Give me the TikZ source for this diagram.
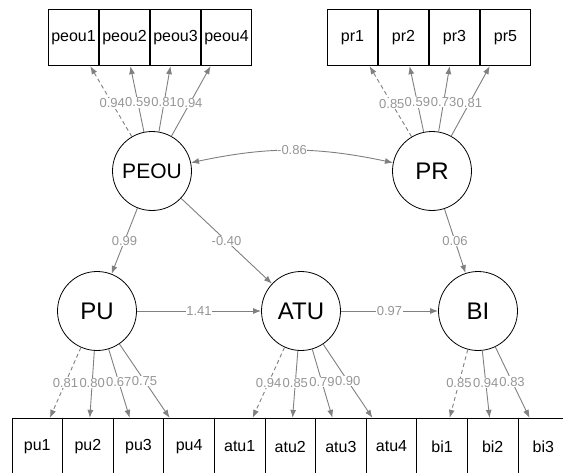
\documentclass[tikz,border=0pt]{standalone}
\usepackage{fontspec}
\setmainfont{Liberation Sans}
\usetikzlibrary{arrows.meta}
\definecolor{edgegray}{RGB}{128,128,128}
\definecolor{lblgray}{RGB}{150,150,150}
\begin{document}
\begin{tikzpicture}[x=1pt,y=-1pt,
  ind/.style={draw=black, line width=0.8pt, rectangle, minimum width=50.6pt, minimum height=56.5pt, inner sep=0pt, font=\fontsize{16}{16}\selectfont},
  lat/.style={draw=black, line width=0.8pt, circle, minimum size=79pt, inner sep=0pt, font=\fontsize{24}{24}\selectfont},
  edg/.style={draw=edgegray, line width=0.9pt, -{Latex[length=8pt,width=6pt]}},
  fixd/.style={edg, dash pattern=on 4pt off 3pt},
  lbl/.style={font=\fontsize{13}{13}\selectfont, text=lblgray, fill=white, inner sep=0.6pt}
]
\clip (0,0) rectangle (563,472);
\fill[white] (0,0) rectangle (563,472);

% latent variables
\node[lat, font=\fontsize{21}{21}\selectfont] (PEOU) at (152,171) {PEOU};
\node[lat] (PR) at (432,171) {PR};
\node[lat] (PU) at (97,311) {PU};
\node[lat] (ATU) at (301,311) {ATU};
\node[lat] (BI) at (478,311) {BI};

% top indicators
\node[ind] (peou1) at (73.5,37.5) {peou1};
\node[ind] (peou2) at (124.5,37.5) {peou2};
\node[ind] (peou3) at (175.5,37.5) {peou3};
\node[ind] (peou4) at (226.5,37.5) {peou4};
\node[ind] (pr1) at (352.5,37.5) {pr1};
\node[ind] (pr2) at (403.5,37.5) {pr2};
\node[ind] (pr3) at (454.5,37.5) {pr3};
\node[ind] (pr5) at (505.5,37.5) {pr5};

% bottom indicators
\node[ind] (pu1) at (37.3,446.5) {pu1};
\node[ind] (pu2) at (87.9,446.5) {pu2};
\node[ind] (pu3) at (138.5,446.5) {pu3};
\node[ind] (pu4) at (189.1,446.5) {pu4};
\node[ind] (atu1) at (239.7,446.5) {atu1};
\node[ind] (atu2) at (290.3,446.5) {atu2};
\node[ind] (atu3) at (340.9,446.5) {atu3};
\node[ind] (atu4) at (391.5,446.5) {atu4};
\node[ind] (bi1) at (442.1,446.5) {bi1};
\node[ind] (bi2) at (492.7,446.5) {bi2};
\node[ind] (bi3) at (543.3,446.5) {bi3};

% loadings top
\draw[fixd] (PEOU) -- node[lbl, pos=0.47] {0.94} (peou1);
\draw[edg] (PEOU) -- node[lbl, pos=0.45] {0.59} (peou2);
\draw[edg] (PEOU) -- node[lbl, pos=0.45] {0.81} (peou3);
\draw[edg] (PEOU) -- node[lbl, pos=0.47] {0.94} (peou4);
\draw[fixd] (PR) -- node[lbl, pos=0.47] {0.85} (pr1);
\draw[edg] (PR) -- node[lbl, pos=0.45] {0.59} (pr2);
\draw[edg] (PR) -- node[lbl, pos=0.45] {0.73} (pr3);
\draw[edg] (PR) -- node[lbl, pos=0.47] {0.81} (pr5);

% loadings bottom
\draw[fixd] (PU) -- node[lbl, pos=0.5] {0.81} (pu1);
\draw[edg] (PU) -- node[lbl, pos=0.48] {0.80} (pu2);
\draw[edg] (PU) -- node[lbl, pos=0.48] {0.67} (pu3);
\draw[edg] (PU) -- node[lbl, pos=0.5] {0.75} (pu4);
\draw[fixd] (ATU) -- node[lbl, pos=0.5] {0.94} (atu1);
\draw[edg] (ATU) -- node[lbl, pos=0.48] {0.85} (atu2);
\draw[edg] (ATU) -- node[lbl, pos=0.48] {0.79} (atu3);
\draw[edg] (ATU) -- node[lbl, pos=0.5] {0.90} (atu4);
\draw[fixd] (BI) -- node[lbl, pos=0.49] {0.85} (bi1);
\draw[edg] (BI) -- node[lbl, pos=0.48] {0.94} (bi2);
\draw[edg] (BI) -- node[lbl, pos=0.49] {0.83} (bi3);

% structural paths
\draw[edg] (PEOU) -- node[lbl] {0.99} (PU);
\draw[edg] (PEOU) -- node[lbl] {-0.40} (ATU);
\draw[edg] (PR) -- node[lbl] {0.06} (BI);
\draw[edg] (PU) -- node[lbl] {1.41} (ATU);
\draw[edg] (ATU) -- node[lbl] {0.97} (BI);
\draw[edg, {Latex[length=8pt,width=6pt]}-{Latex[length=8pt,width=6pt]}] (PEOU) to[bend left=12] node[lbl] {-0.86} (PR);
\end{tikzpicture}
\end{document}
